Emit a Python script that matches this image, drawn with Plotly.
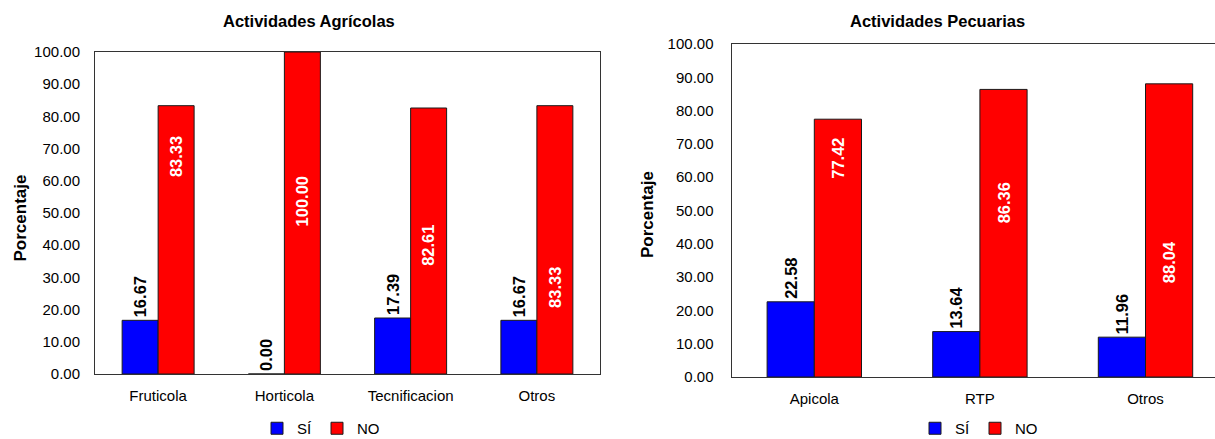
import plotly.graph_objects as go

# ---- data -------------------------------------------------------------
agri_categories = ["Fruticola", "Horticola", "Tecnificacion", "Otros"]
agri_si = [16.67, 0.00, 17.39, 16.67]
agri_no = [83.33, 100.00, 82.61, 83.33]

pec_categories = ["Apicola", "RTP", "Otros"]
pec_si = [22.58, 13.64, 11.96]
pec_no = [77.42, 86.36, 88.04]

y_ticks = [0, 10, 20, 30, 40, 50, 60, 70, 80, 90, 100]

# heights (in %) where the white "NO" value labels sit inside their bars
agri_no_label_at = [67.4, 53.7, 40.0, 27.0]
pec_no_label_at = [65.8, 52.3, 34.5]

# ---- styling ----------------------------------------------------------
FONT = "Arial, 'Liberation Sans', sans-serif"
W, H = 1215, 439
BLUE, RED = "#0000FF", "#FF0000"
EDGE = "#1a1a1a"
AXIS = "#333333"
BARGAP = 0.43
NO_SHIFT = (1 - BARGAP) / 4  # centre of the second bar in a group, in category units


def px_x(p):
    return p / W


def px_y(p):
    return (H - p) / H


fig = go.Figure()


def add_chart(cats, si, no, label_at, xa, ya, legend):
    xref = "x" if xa == "x" else "x2"
    yref = "y" if ya == "y" else "y2"
    fig.add_trace(go.Bar(
        x=cats, y=si, name="SÍ", xaxis=xa, yaxis=ya,
        marker=dict(color=BLUE, line=dict(color=EDGE, width=1)),
        text=[f"{v:.2f}" for v in si], textposition="outside", textangle=-90,
        textfont=dict(family=FONT, size=16.5, color="black", weight="bold"),
        constraintext="none", cliponaxis=False,
        legend=legend, showlegend=True, hoverinfo="skip",
    ))
    fig.add_trace(go.Bar(
        x=cats, y=no, name="NO", xaxis=xa, yaxis=ya,
        marker=dict(color=RED, line=dict(color=EDGE, width=1)),
        legend=legend, showlegend=True, hoverinfo="skip",
    ))
    for i, (v, at) in enumerate(zip(no, label_at)):
        fig.add_annotation(
            x=i + NO_SHIFT, y=at, xref=xref, yref=yref,
            xanchor="center", yanchor="middle",
            text=f"{v:.2f}", textangle=-90, showarrow=False,
            font=dict(family=FONT, size=16.5, color="white", weight="bold"),
        )


add_chart(agri_categories, agri_si, agri_no, agri_no_label_at, "x", "y", "legend")
add_chart(pec_categories, pec_si, pec_no, pec_no_label_at, "x2", "y2", "legend2")

# right-hand plot runs past the page edge; widen its category range to keep spacing
right_left_px = 731.5
right_cat_px = 165.6
right_span = (W - right_left_px) / right_cat_px

common_x = dict(
    type="category", showline=True, linecolor=AXIS, linewidth=1, mirror=True,
    ticks="", showgrid=False, zeroline=False,
    tickfont=dict(family=FONT, size=15, color="black"), ticklabelstandoff=8,
)
common_y = dict(
    range=[0, 100], tickvals=y_ticks, tickformat=".2f",
    showline=True, linecolor=AXIS, linewidth=1, ticks="",
    showgrid=False, zeroline=False,
    tickfont=dict(family=FONT, size=15, color="black"),
)

legend_common = dict(
    orientation="h", xanchor="center", yanchor="bottom", y=-6 / H,
    font=dict(family=FONT, size=15), bgcolor="rgba(0,0,0,0)",
    tracegroupgap=0,
)

fig.update_layout(
    width=W, height=H,
    margin=dict(l=0, r=0, t=0, b=0, pad=0, autoexpand=False),
    paper_bgcolor="white", plot_bgcolor="white",
    barmode="group", bargap=BARGAP, bargroupgap=0,
    font=dict(family=FONT, color="black"),
    xaxis=dict(common_x, domain=[px_x(95), px_x(600)], anchor="y"),
    yaxis=dict(common_y, domain=[px_y(374), px_y(52)], anchor="x", mirror=True,
               ticklabelstandoff=11),
    xaxis2=dict(common_x, domain=[px_x(right_left_px), 1.0], anchor="y2",
                range=[-0.5, -0.5 + right_span]),
    yaxis2=dict(common_y, domain=[px_y(377), px_y(44)], anchor="x2", mirror=False,
                ticklabelstandoff=14),
    legend=dict(legend_common, x=px_x(321)),
    legend2=dict(legend_common, x=px_x(979)),
)

# chart titles
title_font = dict(family=FONT, size=16.5, weight="bold")
fig.add_annotation(x=px_x(309), y=px_y(21), xref="paper", yref="paper",
                   xanchor="center", yanchor="middle",
                   text="Actividades Agrícolas", showarrow=False, font=title_font)
fig.add_annotation(x=px_x(937), y=px_y(21), xref="paper", yref="paper",
                   xanchor="center", yanchor="middle",
                   text="Actividades Pecuarias", showarrow=False, font=title_font)

# y-axis titles
axis_title_font = dict(family=FONT, size=17, weight="bold")
fig.add_annotation(x=px_x(20.5), y=px_y(218), xref="paper", yref="paper",
                   xanchor="center", yanchor="middle",
                   text="Porcentaje", textangle=-90, showarrow=False,
                   font=axis_title_font)
fig.add_annotation(x=px_x(648), y=px_y(215), xref="paper", yref="paper",
                   xanchor="center", yanchor="middle",
                   text="Porcentaje", textangle=-90, showarrow=False,
                   font=axis_title_font)

fig.write_html("out.html")
